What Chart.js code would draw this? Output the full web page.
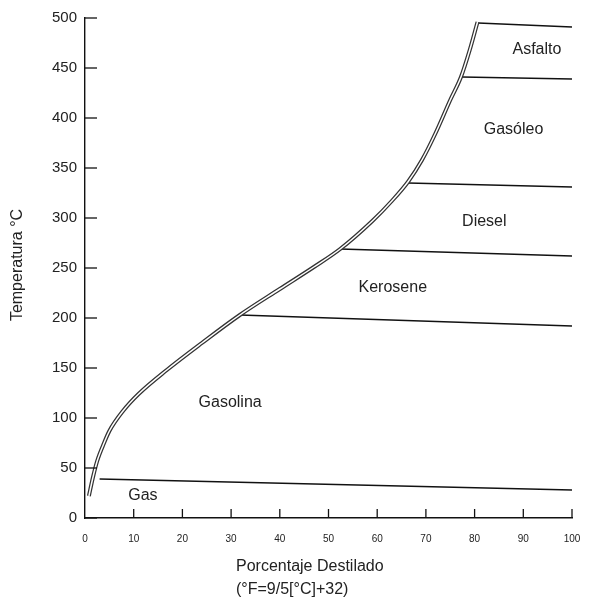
<!DOCTYPE html>
<html>
<head>
<meta charset="utf-8">
<script src="https://cdn.jsdelivr.net/npm/chart.js@4.4.0/dist/chart.umd.min.js"></script>
<style>
  html, body { margin: 0; padding: 0; background: #fff; }
  #wrap { width: 597px; height: 611px; }
</style>
</head>
<body>
<div id="wrap"><canvas id="chart" width="597" height="611"></canvas></div>
<script>
// Distillation curve (% distilled vs temperature °C)
const curvePct  = [0.8, 1.6, 2.5, 4, 5, 7.8, 11, 16.8, 24, 31.8, 40, 47, 52.4, 59, 63, 66.3, 69.2, 72, 75, 77.2, 79, 80.6];
const curveTemp = [22, 40, 57, 76, 87, 107, 124, 148, 175, 203, 229, 251, 269, 297, 317, 336, 358, 385, 418, 441, 468, 496];

// Cut boundaries: start point on the curve, temp at 100%
const cutStartPct  = [3, 31.8, 52.4, 66.3, 77.4, 80.7];
const cutStartTemp = [39, 203, 269, 335, 441, 495];
const cutEndTemp   = [28, 192, 262, 331, 439, 491];

// Fraction names and where they sit (% , temp)
const fractionNames = ['Gas', 'Gasolina', 'Kerosene', 'Diesel', 'Gasóleo', 'Asfalto'];
const fractionPct   = [11.9, 29.8, 63.2, 82, 88, 92.8];
const fractionTemp  = [22, 115, 230, 296, 388, 468];

const xTicks = [0, 10, 20, 30, 40, 50, 60, 70, 80, 90, 100];
const yTicks = [0, 50, 100, 150, 200, 250, 300, 350, 400, 450, 500];

const curvePoints = curvePct.map((p, i) => ({ x: p, y: curveTemp[i] }));

const datasets = [];
cutStartPct.forEach((p, i) => {
    datasets.push({
        data: [{ x: p, y: cutStartTemp[i] }, { x: 100, y: cutEndTemp[i] }],
        borderColor: '#111',
        borderWidth: 1.4,
        pointRadius: 0,
        tension: 0,
        order: 3
    });
});
// curve drawn as a dark line with a thin white core on top -> double line
datasets.push({
    data: curvePoints,
    borderColor: '#333',
    borderWidth: 4,
    pointRadius: 0,
    cubicInterpolationMode: 'monotone',
    order: 2
});
datasets.push({
    data: curvePoints,
    borderColor: '#fff',
    borderWidth: 1.5,
    pointRadius: 0,
    cubicInterpolationMode: 'monotone',
    order: 1
});

// Inward tick marks, fraction names and axis titles
const decorPlugin = {
    id: 'decor',
    afterDraw(chart) {
        const ctx = chart.ctx;
        const xs = chart.scales.x, ys = chart.scales.y;
        const area = chart.chartArea;
        ctx.save();
        ctx.strokeStyle = '#111';
        ctx.lineWidth = 1.3;
        yTicks.forEach(v => {
            const py = ys.getPixelForValue(v);
            ctx.beginPath();
            ctx.moveTo(area.left, py);
            ctx.lineTo(area.left + 12, py);
            ctx.stroke();
        });
        xTicks.forEach(v => {
            if (v === 0) return;
            const px = xs.getPixelForValue(v);
            ctx.beginPath();
            ctx.moveTo(px, area.bottom);
            ctx.lineTo(px, area.bottom - 9);
            ctx.stroke();
        });

        ctx.fillStyle = '#222';
        ctx.font = '16px "Liberation Sans", Arial, sans-serif';
        ctx.textAlign = 'center';
        ctx.textBaseline = 'middle';
        fractionNames.forEach((name, i) => {
            ctx.fillText(name, xs.getPixelForValue(fractionPct[i]), ys.getPixelForValue(fractionTemp[i]));
        });

        ctx.textAlign = 'left';
        ctx.fillText('Porcentaje Destilado', 236, 567);
        ctx.fillText('(°F=9/5[°C]+32)', 236, 590);

        ctx.translate(18, 265);
        ctx.rotate(-Math.PI / 2);
        ctx.textAlign = 'center';
        ctx.fillText('Temperatura °C', 0, 0);
        ctx.restore();
    }
};

new Chart(document.getElementById('chart'), {
    type: 'line',
    data: { datasets: datasets },
    options: {
        responsive: false,
        animation: false,
        layout: { padding: { top: 18, right: 25, left: 0, bottom: 0 } },
        plugins: { legend: { display: false }, tooltip: { enabled: false } },
        scales: {
            x: {
                type: 'linear',
                min: 0,
                max: 100,
                afterFit: (s) => { s.height = 93; },
                afterBuildTicks: (s) => { s.ticks = xTicks.map(v => ({ value: v })); },
                grid: { display: true, drawOnChartArea: false, drawTicks: false },
                border: { display: true, color: '#111', width: 1.4 },
                ticks: {
                    padding: 15,
                    color: '#222',
                    font: { family: '"Liberation Sans", Arial, sans-serif', size: 10 }
                }
            },
            y: {
                type: 'linear',
                min: 0,
                max: 500,
                afterFit: (s) => { s.width = 85; },
                afterBuildTicks: (s) => { s.ticks = yTicks.map(v => ({ value: v })); },
                grid: { display: true, drawOnChartArea: false, drawTicks: false },
                border: { display: true, color: '#111', width: 1.4 },
                ticks: {
                    padding: 8,
                    color: '#222',
                    font: { family: '"Liberation Sans", Arial, sans-serif', size: 15 }
                }
            }
        }
    },
    plugins: [decorPlugin]
});
</script>
</body>
</html>
